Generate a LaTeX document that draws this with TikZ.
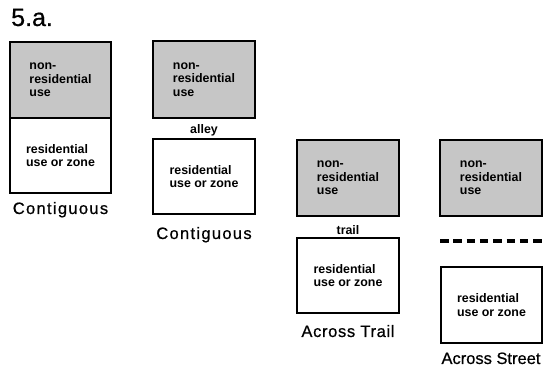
\documentclass[tikz,border=0pt]{standalone}
\usepackage{fontspec}
\setmainfont{Liberation Sans}
\newfontfamily\capfont[LetterSpace=8,FakeBold=0.6]{Liberation Sans}
\newfontfamily\capfontb[LetterSpace=4,FakeBold=0.6]{Liberation Sans}
\newfontfamily\capfontc[FakeBold=0.6]{Liberation Sans}
\begin{document}
\begin{tikzpicture}[x=1pt,y=-1pt,
  blk/.style={draw=black,line width=1.6pt,rectangle,inner sep=0pt,align=left,
    font=\fontsize{12.4}{13.5}\selectfont\bfseries},
  nonres/.style={blk,fill=gray!45},
  res/.style={blk,fill=white},
  lbl/.style={anchor=base,inner sep=0pt,font=\fontsize{16.5}{18}\selectfont},
  small/.style={anchor=base,inner sep=0pt,font=\fontsize{12.4}{14}\selectfont\bfseries},
  street/.style={line width=4pt,dash pattern=on 8.5pt off 4.8pt}]
\useasboundingbox (0,0) rectangle (547,366);
\node[anchor=base west,inner sep=0pt,font=\fontsize{25}{28}\selectfont\capfontc] (title) at (11,26) {5.a.};
% column 1
\node[nonres,minimum width=101,minimum height=76] (n1) at (60.5,80) {non-\\residential\\use};
\node[res,minimum width=101,minimum height=75] (r1) at (60.5,155.5) {residential\\use or zone};
\node[lbl] (c1) at (60.5,214) {\capfont Contiguous};
% column 2
\node[nonres,minimum width=102,minimum height=77] (n2) at (204,79.5) {non-\\residential\\use};
\node[small] (alley) at (204,134) {alley};
\node[res,minimum width=102,minimum height=75] (r2) at (204,176.5) {residential\\use or zone};
\node[lbl] (c2) at (204,239) {\capfont Contiguous};
% column 3
\node[nonres,minimum width=102,minimum height=76] (n3) at (348,178) {non-\\residential\\use};
\node[small] (trail) at (348,235) {trail};
\node[res,minimum width=102,minimum height=75] (r3) at (348,275.5) {residential\\use or zone};
\node[lbl] (c3) at (348,337) {\capfontb Across Trail};
% column 4
\node[nonres,minimum width=102,minimum height=76] (n4) at (491,178) {non-\\residential\\use};
\coordinate (sw) at (440,241);
\coordinate (se) at (542,241);
\draw[street] (sw) -- (se);
\node[res,minimum width=101,minimum height=76] (r4) at (491.5,305) {residential\\use or zone};
\node[lbl] (c4) at (491,364) {\capfontc Across Street};
\end{tikzpicture}
\end{document}
